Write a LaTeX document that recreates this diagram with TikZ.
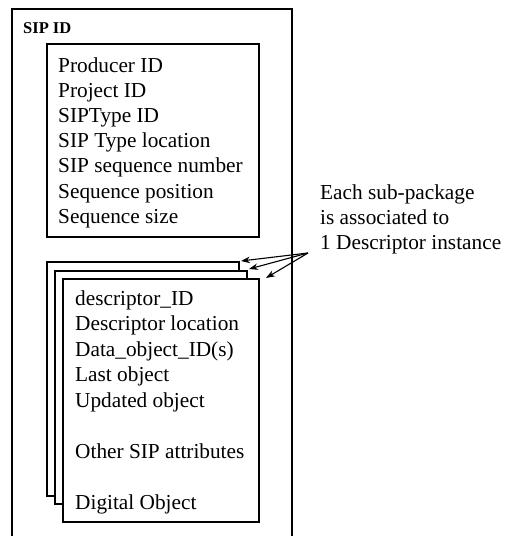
\documentclass[tikz,border=0pt]{standalone}
\usepackage{fontspec}
\setmainfont{Liberation Serif}
\usetikzlibrary{arrows.meta}
\begin{document}
\begin{tikzpicture}[x=1pt,y=-1pt,
  frame/.style={draw=black,line width=1.2pt},
  sheet/.style={draw=black,line width=1.1pt,fill=white,rectangle,inner sep=0pt,outer sep=0pt,anchor=north west},
  itemtext/.style={anchor=base west,inner sep=0pt,font=\fontsize{21.3}{25}\selectfont,text=black},
  titletext/.style={anchor=base west,inner sep=0pt,font=\fontsize{16.5}{20}\selectfont\bfseries},
  pointer/.style={draw=black,line width=1.1pt,-{Stealth[length=9pt,width=6.5pt]}}]
\useasboundingbox (0,0) rectangle (505,536);
\fill[white] (0,0) rectangle (505,536);

% outer SIP frame, open at the bottom
\draw[frame] (12,536) -- (12,9) -- (292,9) -- (292,536);
\node[titletext] (sipid) at (23,33) {SIP ID};

% identification block
\node[sheet,minimum width=212pt,minimum height=193pt] (ids) at (47,44) {};
\foreach \t [count=\i from 0] in {Producer ID,Project ID,SIPType ID,SIP Type location,SIP sequence number,Sequence position,Sequence size}
  \node[itemtext] (id\i) at (58,{72+25.2*\i}) {\t};

% stacked descriptor sheets
\node[sheet,minimum width=192pt,minimum height=234pt] (back) at (47,262) {};
\node[sheet,minimum width=192pt,minimum height=233pt] (mid) at (55,271) {};
\node[sheet,minimum width=196pt,minimum height=243pt] (front) at (63,279) {};
\foreach \i/\t in {0/descriptor\_ID,1/Descriptor location,2/Data\_object\_ID(s),3/Last object,4/Updated object,6/Other SIP attributes,8/Digital Object}
  \node[itemtext] (d\i) at (75,{305+25.5*\i}) {\t};

% annotation
\node[itemtext] (note1) at (320,199) {Each sub-package};
\node[itemtext] (note2) at (320,224) {is associated to};
\node[itemtext] (note3) at (320,249) {1 Descriptor instance};
\coordinate (src) at (308,253);
\draw[pointer] (src) -- ([shift={(2,-1)}]back.north east);
\draw[pointer] (src) -- ([shift={(2,-2)}]mid.north east);
\draw[pointer] (src) -- ([shift={(7,-1)}]front.north east);
\end{tikzpicture}
\end{document}
